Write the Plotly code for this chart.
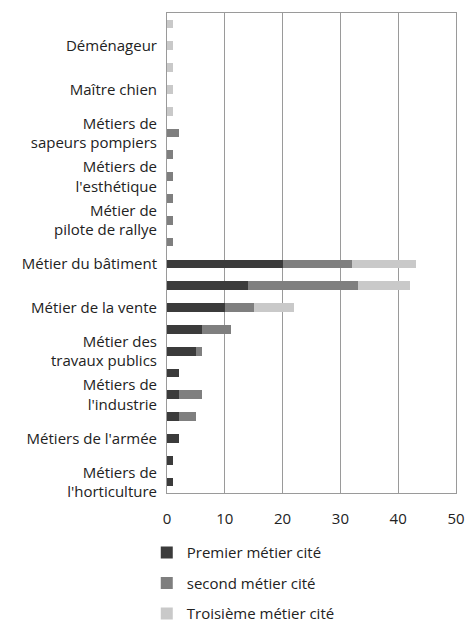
import plotly.graph_objects as go

# Categories from bottom to top (every other bar carries a label, as in the original)
labels = ["Métiers de<br>l'horticulture", "", "Métiers de l'armée", "",
          "Métiers de<br>l'industrie", "", "Métier des<br>travaux publics", "",
          "Métier de la vente", "", "Métier du bâtiment", "",
          "Métier de<br>pilote de rallye", "", "Métiers de<br>l'esthétique", "",
          "Métiers de<br>sapeurs pompiers", "", "Maître chien", "",
          "Déménageur", ""]

premier = [1, 1, 2, 2, 2, 2, 5, 6, 10, 14, 20, 0, 0, 0, 0, 0, 0, 0, 0, 0, 0, 0]
second = [0, 0, 0, 3, 4, 0, 1, 5, 5, 19, 12, 1, 1, 1, 1, 1, 2, 0, 0, 0, 0, 0]
troisieme = [0, 0, 0, 0, 0, 0, 0, 0, 7, 9, 11, 0, 0, 0, 0, 0, 0, 1, 1, 1, 1, 1]

series_names = ["Premier métier cité", "second métier cité", "Troisième métier cité"]
colors = ["#3b3b3b", "#7f7f7f", "#c9c9c9"]
x_ticks = [0, 10, 20, 30, 40, 50]
x_ticktext = ["0", "10", "20", "30", "40", "50"]

positions = list(range(len(labels)))

fig = go.Figure()
for name, vals, col in zip(series_names, [premier, second, troisieme], colors):
    fig.add_trace(go.Bar(
        y=positions, x=vals, name=name, orientation="h",
        marker=dict(color=col, line=dict(width=0)),
        legendgroup=name,
    ))

font_family = "'Open Sans', Lato, sans-serif"
fig.update_layout(
    barmode="stack",
    bargap=0.6,
    width=466, height=625,
    margin=dict(l=167, r=10, t=13, b=132, autoexpand=False),
    paper_bgcolor="white", plot_bgcolor="white",
    font=dict(family=font_family, size=15, color="#222222"),
    showlegend=True,
    legend=dict(
        x=-0.07, y=-0.09, xanchor="left", yanchor="top",
        orientation="v", traceorder="grouped", tracegroupgap=8,
        font=dict(size=15, color="#222222"),
        itemwidth=30,
    ),
    xaxis=dict(
        range=[0, 50], tickvals=x_ticks, ticktext=x_ticktext,
        showgrid=True, gridcolor="#9a9a9a", gridwidth=1,
        showline=True, linecolor="#9a9a9a", linewidth=1, mirror=True,
        zeroline=False, ticks="", ticklabelstandoff=12,
        ticklabeloverflow="allow",
        tickfont=dict(size=15),
    ),
    yaxis=dict(
        range=[-0.5, len(labels) - 0.5],
        tickmode="array", tickvals=positions, ticktext=labels,
        showgrid=False, showline=True, linecolor="#9a9a9a", linewidth=1, mirror=True,
        zeroline=False, ticks="", ticklabelstandoff=6,
        tickfont=dict(size=15),
    ),
)

fig.write_html(
    "out.html",
    config={"displayModeBar": False},
    post_script="document.body.style.margin='0';document.body.style.overflow='hidden';",
)
